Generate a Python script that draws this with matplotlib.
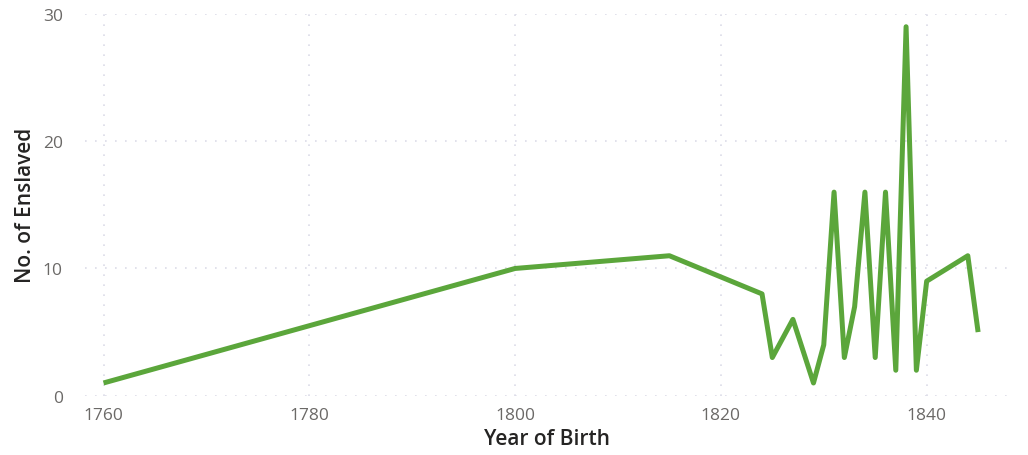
import matplotlib
matplotlib.use("Agg")
import matplotlib.pyplot as plt

years = [1760, 1800, 1815, 1824, 1825, 1827, 1829, 1830, 1831, 1832, 1833,
         1834, 1835, 1836, 1837, 1838, 1839, 1840, 1844, 1845]
enslaved = [1, 10, 11, 8, 3, 6, 1, 4, 16, 3, 7,
            16, 3, 16, 2, 29, 2, 9, 11, 5]
x_ticks = [1760, 1780, 1800, 1820, 1840]
y_ticks = [0, 10, 20, 30]

fig = plt.figure(figsize=(10.28, 4.56), dpi=100)
ax = fig.add_axes([85/1028, 1 - 396.7/456, 925/1028, (396.7 - 15)/456])
ax.plot(years, enslaved, color="#5BA63B", linewidth=3.6, solid_joinstyle="round",
        solid_capstyle="butt", clip_on=False)
ax.set_xlim(1758.2, 1848.1)
ax.set_ylim(0, 30)
ax.set_xticks(x_ticks)
ax.set_yticks(y_ticks)
for s in ax.spines.values():
    s.set_visible(False)
ax.grid(True, color="#DCDCE8", linestyle=(0, (1, 5)), linewidth=1.2)
ax.tick_params(length=0, labelsize=12.5, labelcolor="#6B6967")
ax.tick_params(axis="y", pad=16)
ax.tick_params(axis="x", pad=8)
for lab in ax.get_xticklabels() + ax.get_yticklabels():
    lab.set_family("Open Sans")
ax.set_xlabel("Year of Birth", fontsize=15, color="#252423", family="Open Sans",
              fontweight="semibold", labelpad=4)
ax.set_ylabel("No. of Enslaved", fontsize=15, color="#252423", family="Open Sans",
              fontweight="semibold", labelpad=5)
fig.savefig("out.png", dpi=100)
